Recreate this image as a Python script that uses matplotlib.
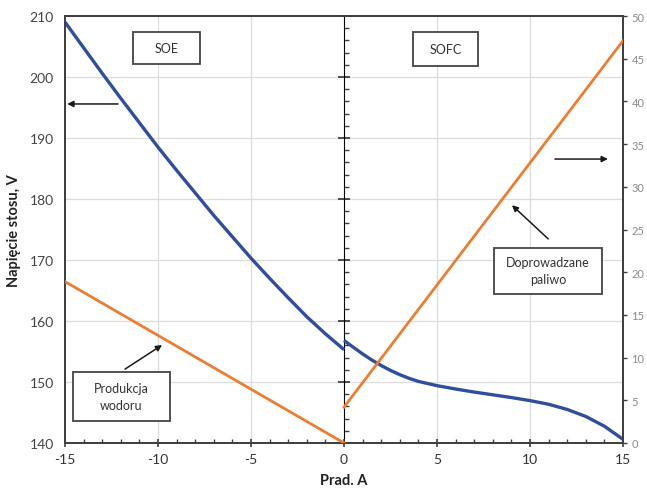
import matplotlib
matplotlib.use("Agg")
import matplotlib.pyplot as plt
from matplotlib.patches import Rectangle
from matplotlib.ticker import MultipleLocator

plt.rcParams['font.family'] = ['Lato', 'DejaVu Sans']
plt.rcParams['axes.unicode_minus'] = False

# --- data -------------------------------------------------------------
soe_current = [-15, -14, -13, -12, -11, -10, -9, -8, -7, -6, -5, -4, -3, -2, -1, 0]
soe_voltage = [209.0, 204.8, 200.6, 196.5, 192.5, 188.5, 184.7, 181.0, 177.3,
               173.8, 170.3, 167.0, 163.8, 160.7, 157.9, 155.3]

sofc_current = [0, 0.5, 1, 1.5, 2, 2.5, 3, 3.5, 4, 5, 6, 7, 8, 9, 10, 11, 12, 13, 14, 15]
sofc_voltage = [156.8, 155.7, 154.6, 153.6, 152.7, 151.9, 151.2, 150.6, 150.1,
                149.4, 148.85, 148.35, 147.9, 147.45, 146.95, 146.35, 145.5,
                144.35, 142.75, 140.6]

h2_current = [-15, -10, -5, 0]
h2_production = [18.9, 12.6, 6.3, 0.0]

fuel_current = [0, 5, 10, 15]
fuel_supply = [4.2, 18.5, 32.8, 47.1]

x_ticks = [-15, -10, -5, 0, 5, 10, 15]
left_ticks = [140, 150, 160, 170, 180, 190, 200, 210]
right_ticks = [0, 5, 10, 15, 20, 25, 30, 35, 40, 45, 50]

BLUE = '#2f4f9e'
ORANGE = '#ed7d31'
DARK = '#404040'

fig = plt.figure(figsize=(6.47, 4.89), dpi=100)
ax = fig.add_axes([65/647, 1-444/489, 558/647, 427/489])

ax.set_xlim(-15, 15)
ax.set_ylim(140, 210)
ax.set_xticks(x_ticks)
ax.set_yticks(left_ticks)
ax.xaxis.set_minor_locator(MultipleLocator(1))
ax.tick_params(axis='x', which='major', direction='inout', length=6, width=1.2,
               color=DARK, labelsize=10, labelcolor='#333333', pad=4)
ax.tick_params(axis='x', which='minor', direction='in', length=3, width=1.0, color=DARK)
ax.tick_params(axis='y', which='both', length=0, labelsize=10, labelcolor='#444444', pad=8)

# grid
for xv in [-10, -5, 5, 10]:
    ax.axvline(xv, color='#dcdcdc', lw=0.9, zorder=0)
for yv in left_ticks[1:-1]:
    ax.axhline(yv, color='#dcdcdc', lw=0.9, zorder=0)

for s in ax.spines.values():
    s.set_color(DARK)
    s.set_linewidth(1.3)

ax.plot(soe_current, soe_voltage, color=BLUE, lw=2.4, zorder=3,
        solid_joinstyle='round', solid_capstyle='butt')
ax.plot(sofc_current, sofc_voltage, color=BLUE, lw=2.4, zorder=3,
        solid_joinstyle='round', solid_capstyle='butt')

ax2 = ax.twinx()
ax2.set_ylim(0, 50)
ax2.set_yticks(right_ticks)
ax2.tick_params(axis='y', direction='out', length=3, width=1.0, color=DARK,
                labelsize=8, labelcolor='#8a8a8a', pad=3)
for s in ax2.spines.values():
    s.set_color(DARK)
    s.set_linewidth(1.3)
ax2.plot(h2_current, h2_production, color=ORANGE, lw=2.0, zorder=3)
ax2.plot(fuel_current, fuel_supply, color=ORANGE, lw=2.0, zorder=3)

# center vertical axis at x = 0
sec = ax.secondary_yaxis(0.5)
sec.set_yticks(left_ticks)
sec.yaxis.set_minor_locator(MultipleLocator(2))
sec.yaxis.set_tick_params(which='major', left=True, right=False, direction='inout',
                          length=8, width=1.3, color=DARK,
                          labelleft=False, labelright=False)
sec.yaxis.set_tick_params(which='minor', left=True, right=False, direction='in',
                          length=3.5, width=1.0, color=DARK,
                          labelleft=False, labelright=False)
sec.spines['left'].set_color(DARK)
sec.spines['left'].set_linewidth(1.3)

ax.set_ylabel('Napięcie stosu, V', fontsize=10.5, fontweight='bold', color='#222222', labelpad=6)
ax.set_xlabel('Prad. A', fontsize=10.5, fontweight='bold', color='#222222', labelpad=6)

# boxes with labels (axes coordinates)
def box(x0, y0, x1, y1, lines):
    r = Rectangle((x0, y0), x1 - x0, y1 - y0, transform=ax2.transAxes,
                  facecolor='white', edgecolor='#444444', lw=1.3, zorder=5)
    ax2.add_patch(r)
    ax2.text((x0 + x1) / 2, (y0 + y1) / 2, lines, transform=ax2.transAxes,
             ha='center', va='center', fontsize=9, color='#333333', zorder=6,
             linespacing=1.5)

box(0.122, 0.888, 0.242, 0.9625, 'SOE')
box(0.624, 0.883, 0.740, 0.9625, 'SOFC')
box(0.0143, 0.0515, 0.188, 0.166, 'Produkcja\nwodoru')
box(0.769, 0.349, 0.962, 0.457, 'Doprowadzane\npaliwo')

def arrow(x0, y0, x1, y1):
    ax2.annotate('', xy=(x1, y1), xycoords='axes fraction',
                 xytext=(x0, y0), textcoords='axes fraction',
                 arrowprops=dict(arrowstyle='-|>', color='#1a1a1a', lw=1.1,
                                 mutation_scale=9, shrinkA=0, shrinkB=0),
                 zorder=6)

arrow(0.095, 0.794, 0.004, 0.794)
arrow(0.878, 0.665, 0.973, 0.665)
arrow(0.1075, 0.173, 0.174, 0.2295)
arrow(0.866, 0.478, 0.801, 0.557)

fig.savefig('out.png', dpi=100)
